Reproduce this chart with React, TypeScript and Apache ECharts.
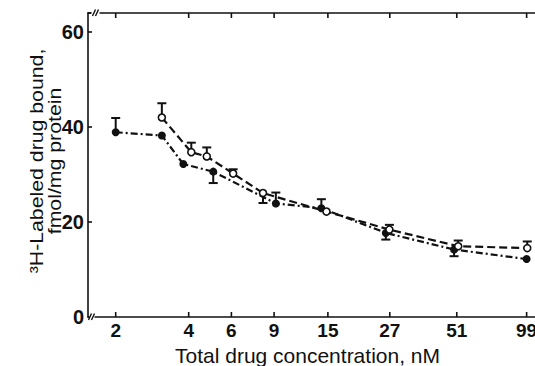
import { useEffect, useRef } from 'react';
import * as echarts from 'echarts';

const X_TICKS = [2, 4, 6, 9, 15, 27, 51, 99];
const X_MIN = 1.5375;
const X_MAX = 107.2;
const Y_MAX = 64;

const FILLED_X = [2, 3.1, 3.8, 5.05, 9.15, 14.1, 26, 49.7, 99];
const FILLED_Y = [38.9, 38.2, 32.2, 30.6, 23.9, 22.9, 17.7, 14.2, 12.2];
const FILLED_ERR = [41.9, null, null, 28.2, 26.2, 24.8, 16.3, 12.8, null];

const OPEN_X = [3.1, 4.1, 4.75, 6.1, 8.1, 14.8, 26.9, 51.7, 99.6];
const OPEN_Y = [42.0, 34.7, 33.8, 30.2, 26.1, 22.2, 18.4, 14.9, 14.5];
const OPEN_ERR = [45.0, 36.7, 35.7, 31.1, 24.0, null, 19.4, 16.1, 15.9];

const FONT = '"Liberation Sans", Arial, Helvetica, sans-serif';
const BLACK = '#111';

function errData(xs: number[], ys: number[], es: (number | null)[]) {
  const out: number[][] = [];
  xs.forEach((x, i) => {
    const e = es[i];
    if (e !== null && e !== undefined) out.push([x, ys[i], e]);
  });
  return out;
}

function errRender(params: any, api: any) {
  const p = api.coord([api.value(0), api.value(1)]);
  const e = api.coord([api.value(0), api.value(2)]);
  return {
    type: 'group',
    children: [
      { type: 'line', shape: { x1: p[0], y1: p[1], x2: e[0], y2: e[1] }, style: { stroke: BLACK, lineWidth: 2 } },
      { type: 'line', shape: { x1: e[0] - 4.5, y1: e[1], x2: e[0] + 4.5, y2: e[1] }, style: { stroke: BLACK, lineWidth: 2 } },
    ],
  };
}

export default function App() {
  const ref = useRef<HTMLDivElement>(null);
  useEffect(() => {
    const chart = echarts.init(ref.current!, null, { renderer: 'svg' });
    const axisLine = { show: true, onZero: false, lineStyle: { color: BLACK, width: 1.6 } };
    const option: any = {
      animation: false,
      backgroundColor: '#fff',
      grid: { left: 88, right: 0, top: 13, bottom: 49 },
      xAxis: [
        {
          type: 'log', logBase: 2, min: X_MIN, max: X_MAX, position: 'bottom',
          axisLine, axisTick: { show: false }, axisLabel: { show: false }, splitLine: { show: false },
        },
        {
          type: 'log', logBase: 2, min: X_MIN, max: X_MAX, position: 'top',
          axisLine, axisTick: { show: false }, axisLabel: { show: false }, splitLine: { show: false },
        },
      ],
      yAxis: {
        type: 'value', min: 0, max: Y_MAX, interval: 20,
        axisLine,
        axisTick: { show: true, inside: true, length: 4, lineStyle: { color: BLACK, width: 1.6 } },
        axisLabel: {
          show: true, margin: 4, color: BLACK, fontSize: 20, fontWeight: 'bold', fontFamily: FONT,
          formatter: (v: number) => (v % 20 === 0 ? String(v) : ''),
        },
        splitLine: { show: false },
      },
      series: [
        {
          type: 'custom', name: 'ticks', z: 5, clip: false, silent: true,
          data: X_TICKS.map((v) => [v, 0]),
          renderItem: (params: any, api: any) => {
            const v = api.value(0);
            const b = api.coord([v, 0]);
            const t = api.coord([v, Y_MAX]);
            return {
              type: 'group',
              children: [
                { type: 'line', shape: { x1: b[0], y1: b[1], x2: b[0], y2: b[1] - 5 }, style: { stroke: BLACK, lineWidth: 1.6 } },
                { type: 'line', shape: { x1: t[0], y1: t[1], x2: t[0], y2: t[1] + 5 }, style: { stroke: BLACK, lineWidth: 1.6 } },
                {
                  type: 'text',
                  style: {
                    text: String(X_TICKS[params.dataIndex]), x: b[0], y: b[1] + 13,
                    align: 'center', verticalAlign: 'middle', fill: BLACK,
                    fontSize: 19, fontWeight: 'bold', fontFamily: FONT,
                  },
                },
              ],
            };
          },
        },
        {
          type: 'custom', name: 'errFilled', z: 1, silent: true,
          data: errData(FILLED_X, FILLED_Y, FILLED_ERR),
          renderItem: errRender,
        },
        {
          type: 'custom', name: 'errOpen', z: 1, silent: true,
          data: errData(OPEN_X, OPEN_Y, OPEN_ERR),
          renderItem: errRender,
        },
        {
          type: 'line', name: 'filled', z: 3,
          data: FILLED_X.map((x, i) => [x, FILLED_Y[i]]),
          symbol: 'circle', symbolSize: 8,
          itemStyle: { color: BLACK },
          lineStyle: { color: BLACK, width: 2.2, type: [7, 3, 2, 3] },
        },
        {
          type: 'line', name: 'open', z: 4,
          data: OPEN_X.map((x, i) => [x, OPEN_Y[i]]),
          symbol: 'circle', symbolSize: 7,
          itemStyle: { color: '#fff', borderColor: BLACK, borderWidth: 1.6 },
          lineStyle: { color: BLACK, width: 2.2, type: [8, 4] },
        },
      ],
      graphic: [
        { type: 'rect', z: 100, shape: { x: 89.5, y: 314, width: 5, height: 6 }, style: { fill: '#fff' } },
        { type: 'line', z: 101, shape: { x1: 88.5, y1: 320, x2: 91.5, y2: 313.5 }, style: { stroke: BLACK, lineWidth: 1.4 } },
        { type: 'line', z: 101, shape: { x1: 91.5, y1: 320, x2: 94.5, y2: 313.5 }, style: { stroke: BLACK, lineWidth: 1.4 } },
        { type: 'rect', z: 100, shape: { x: 91.5, y: 10, width: 8, height: 6 }, style: { fill: '#fff' } },
        { type: 'line', z: 101, shape: { x1: 92.5, y1: 16, x2: 95.5, y2: 9.5 }, style: { stroke: BLACK, lineWidth: 1.4 } },
        { type: 'line', z: 101, shape: { x1: 95.5, y1: 16, x2: 98.5, y2: 9.5 }, style: { stroke: BLACK, lineWidth: 1.4 } },
        {
          type: 'text', z: 100, x: 307.5, y: 355,
          style: { text: 'Total drug concentration, nM', align: 'center', verticalAlign: 'middle', fill: BLACK, fontSize: 21, fontFamily: FONT },
        },
        {
          type: 'text', z: 100, x: 45, y: 161, rotation: Math.PI / 2, scaleX: 1.12,
          style: {
            text: '³H-Labeled drug bound,\nfmol/mg protein', align: 'center', verticalAlign: 'middle',
            fill: BLACK, fontSize: 19, lineHeight: 18, fontFamily: FONT,
          },
        },
      ],
    };
    chart.setOption(option);
    return () => chart.dispose();
  }, []);
  return <div ref={ref} style={{ position: 'absolute', left: 0, top: 0, width: 535, height: 366 }} />;
}
